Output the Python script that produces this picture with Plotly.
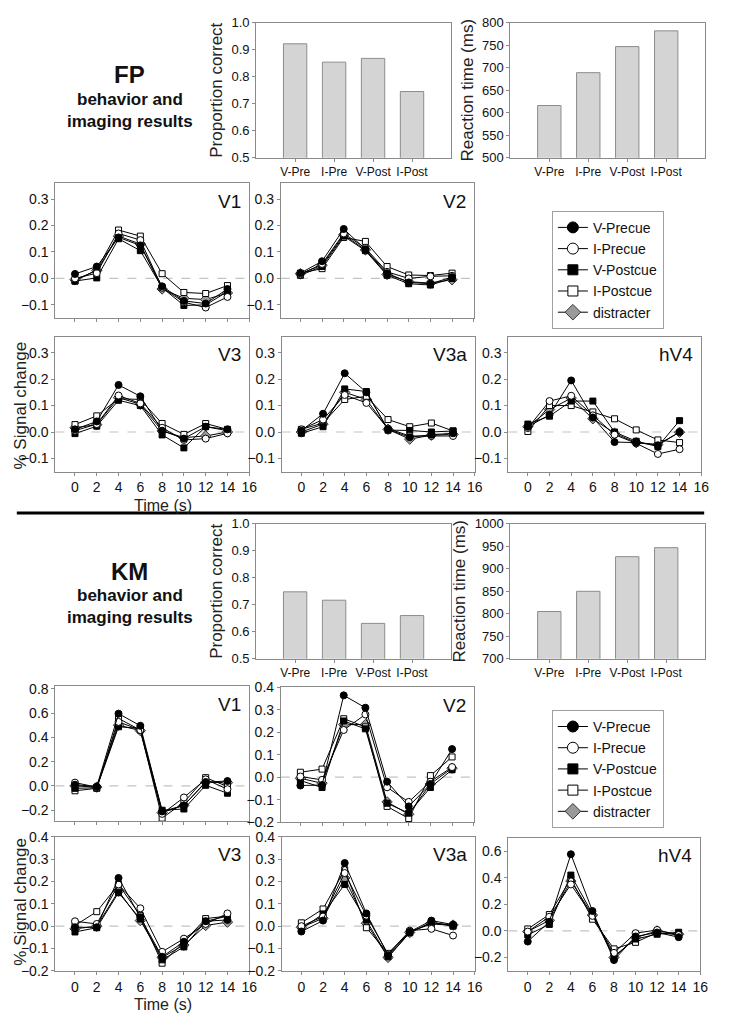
import plotly.graph_objects as go

W, H = 729, 1029

# ---- data ----
conds = ["V-Pre", "I-Pre", "V-Post", "I-Post"]
time_s = [0, 2, 4, 6, 8, 10, 12, 14]
series_names = ["V-Precue", "I-Precue", "V-Postcue", "I-Postcue", "distracter"]

fp_prop = [0.922, 0.854, 0.868, 0.745]
fp_rt = [616, 689, 747, 782]
km_prop = [0.748, 0.717, 0.631, 0.660]
km_rt = [805, 850, 927, 947]

# each list: V-Precue, I-Precue, V-Postcue, I-Postcue, distracter
fp_v1 = [[0.017, 0.045, 0.155, 0.125, -0.030, -0.085, -0.095, -0.040],
         [0.000, 0.020, 0.170, 0.145, -0.035, -0.090, -0.110, -0.070],
         [-0.010, 0.002, 0.150, 0.105, -0.035, -0.102, -0.100, -0.050],
         [-0.010, 0.033, 0.183, 0.160, 0.018, -0.053, -0.057, -0.027],
         [-0.005, 0.030, 0.160, 0.130, -0.040, -0.075, -0.080, -0.055]]
fp_v2 = [[0.020, 0.065, 0.187, 0.110, 0.020, -0.015, -0.020, 0.005],
         [0.015, 0.055, 0.170, 0.115, 0.025, 0.000, 0.008, 0.010],
         [0.012, 0.045, 0.160, 0.105, 0.012, -0.020, -0.025, 0.000],
         [0.020, 0.037, 0.155, 0.140, 0.045, 0.013, 0.011, 0.020],
         [0.018, 0.050, 0.165, 0.108, 0.015, -0.012, -0.018, -0.005]]
fp_v3 = [[0.010, 0.040, 0.178, 0.135, 0.005, -0.025, 0.020, 0.010],
         [0.005, 0.030, 0.138, 0.108, 0.016, -0.030, -0.025, -0.005],
         [-0.006, 0.022, 0.120, 0.100, -0.011, -0.060, 0.020, 0.005],
         [0.028, 0.061, 0.126, 0.123, 0.032, -0.009, 0.032, 0.010],
         [0.016, 0.028, 0.130, 0.105, 0.004, -0.021, -0.015, 0.000]]
fp_v3a = [[0.005, 0.069, 0.222, 0.150, 0.010, -0.020, -0.010, -0.005],
          [0.010, 0.047, 0.140, 0.110, 0.013, -0.015, -0.015, -0.015],
          [-0.005, 0.020, 0.163, 0.153, 0.007, 0.006, 0.000, 0.004],
          [0.010, 0.034, 0.123, 0.135, 0.047, 0.020, 0.034, 0.004],
          [0.000, 0.030, 0.150, 0.123, 0.010, -0.027, -0.012, -0.009]]
fp_hv4 = [[0.020, 0.065, 0.195, 0.055, -0.038, -0.040, -0.050, 0.000],
          [0.015, 0.117, 0.137, 0.063, -0.010, -0.043, -0.083, -0.065],
          [0.030, 0.060, 0.117, 0.117, 0.000, -0.035, -0.055, 0.043],
          [0.002, 0.100, 0.100, 0.076, 0.050, 0.008, -0.030, -0.040],
          [0.020, 0.085, 0.128, 0.050, -0.005, -0.040, -0.047, -0.001]]

km_v1 = [[0.010, -0.005, 0.595, 0.495, -0.210, -0.160, 0.032, 0.040],
         [0.027, -0.010, 0.527, 0.460, -0.230, -0.095, 0.054, -0.027],
         [-0.020, -0.015, 0.487, 0.473, -0.200, -0.190, 0.005, -0.060],
         [-0.040, -0.020, 0.555, 0.460, -0.265, -0.135, 0.068, -0.005],
         [0.000, -0.010, 0.500, 0.455, -0.220, -0.160, 0.030, 0.027]]
km_v2 = [[-0.037, -0.035, 0.364, 0.309, -0.020, -0.130, -0.030, 0.125],
         [0.003, -0.012, 0.210, 0.279, -0.045, -0.110, -0.020, 0.045],
         [-0.015, -0.046, 0.250, 0.215, -0.116, -0.160, -0.046, 0.033],
         [0.022, 0.036, 0.260, 0.224, -0.130, -0.184, 0.007, 0.090],
         [-0.005, -0.027, 0.234, 0.234, -0.110, -0.165, -0.030, 0.040]]
km_v3 = [[-0.005, -0.005, 0.216, 0.040, -0.137, -0.070, 0.022, 0.028],
         [0.022, 0.010, 0.187, 0.080, -0.115, -0.056, 0.010, 0.057],
         [-0.026, -0.007, 0.150, 0.032, -0.151, -0.093, 0.022, 0.045],
         [0.003, 0.065, 0.187, 0.047, -0.166, -0.070, 0.034, 0.045],
         [-0.012, 0.000, 0.157, 0.025, -0.140, -0.085, 0.003, 0.018]]
km_v3a = [[-0.024, 0.025, 0.283, 0.057, -0.130, -0.025, 0.025, 0.007],
          [0.000, 0.043, 0.238, 0.047, -0.125, -0.020, -0.012, -0.042],
          [-0.012, 0.055, 0.187, 0.028, -0.137, -0.030, 0.018, 0.000],
          [0.015, 0.077, 0.253, -0.007, -0.122, -0.025, 0.010, 0.003],
          [-0.005, 0.035, 0.216, 0.013, -0.140, -0.028, 0.015, 0.005]]
km_hv4 = [[-0.080, 0.069, 0.577, 0.150, -0.219, -0.042, -0.012, -0.047],
          [-0.005, 0.106, 0.350, 0.113, -0.165, -0.017, 0.007, -0.030],
          [-0.030, 0.049, 0.420, 0.130, -0.190, -0.061, -0.025, -0.010],
          [0.015, 0.123, 0.393, 0.088, -0.135, -0.086, -0.012, -0.030],
          [-0.005, 0.080, 0.376, 0.120, -0.200, -0.050, 0.000, -0.025]]

SANS = "Liberation Sans, Arial, sans-serif"
AXC = "#8a8a8a"

symbols = ["circle", "circle", "square", "square", "diamond"]
fills = ["black", "white", "black", "white", "#9a9a9a"]
edges = ["black", "black", "black", "black", "#333333"]
sizes = [7, 7, 6, 6, 8]

fig = go.Figure()
layout = {}
shapes = []
annos = []
n = [0]


def dom(x0, x1, y0, y1):
    return [x0 / W, x1 / W], [1 - y1 / H, 1 - y0 / H]


def new_axes(x0, x1, y0, y1):
    n[0] += 1
    k = n[0]
    xd, yd = dom(x0, x1, y0, y1)
    xname = "xaxis" if k == 1 else f"xaxis{k}"
    yname = "yaxis" if k == 1 else f"yaxis{k}"
    xr = "x" if k == 1 else f"x{k}"
    yr = "y" if k == 1 else f"y{k}"
    base = dict(showline=True, mirror=True, linecolor=AXC, linewidth=1,
                showgrid=False, zeroline=False, ticks="outside", ticklen=3,
                tickcolor=AXC)
    layout[xname] = dict(base, domain=xd, anchor=yr)
    layout[yname] = dict(base, domain=yd, anchor=xr)
    return xr, yr, xname, yname


def bar_panel(vals, x0, x1, y0, y1, yrange, dtick, fmt, ytitle):
    xr, yr, xn, yn = new_axes(x0, x1, y0, y1)
    fig.add_trace(go.Bar(x=conds, y=vals, xaxis=xr, yaxis=yr, width=0.6,
                         marker=dict(color="#d4d4d4", line=dict(color="#8c8c8c", width=1)),
                         showlegend=False))
    layout[xn].update(type="category", range=[-1, 4],
                      tickfont=dict(family=SANS, size=12, color="#111"))
    layout[yn].update(range=yrange, dtick=dtick, tickformat=fmt,
                      tickfont=dict(family=SANS, size=13, color="#111"),
                      title=dict(text=ytitle, standoff=4,
                                 font=dict(family=SANS, size=17, color="#222")))


def line_panel(data, label, x0, x1, y0, y1, yrange, dtick, xlabels, legend=None):
    xr, yr, xn, yn = new_axes(x0, x1, y0, y1)
    for i in reversed(range(5)):
        fig.add_trace(go.Scatter(
            x=time_s, y=data[i], xaxis=xr, yaxis=yr, mode="lines+markers",
            name=series_names[i], line=dict(color="black", width=1),
            marker=dict(symbol=symbols[i], size=sizes[i], color=fills[i],
                        line=dict(color=edges[i], width=1)),
            showlegend=False))
    if legend:
        # legend-only entries (no data) with larger symbols, as in the original key
        for i in range(5):
            fig.add_trace(go.Scatter(
                x=[None], y=[None], xaxis=xr, yaxis=yr, mode="lines+markers",
                name=series_names[i], legend=legend,
                line=dict(color="black", width=1),
                marker=dict(symbol=symbols[i], size=sizes[i] + 4, color=fills[i],
                            line=dict(color=edges[i], width=1))))
    layout[xn].update(range=[-1.8, 16], tickvals=list(range(0, 17, 2)),
                      showticklabels=xlabels,
                      tickfont=dict(family=SANS, size=14, color="#111"))
    layout[yn].update(range=yrange, dtick=dtick, tickformat=".1f",
                      tickfont=dict(family=SANS, size=14, color="#111"))
    shapes.append(dict(type="line", xref=f"{xr} domain", x0=0, x1=1, yref=yr,
                       y0=0, y1=0, line=dict(color="#c4c4c4", width=1.2, dash="dash"),
                       layer="below"))
    annos.append(dict(text=label, xref=f"{xr} domain", yref=f"{yr} domain",
                      x=0.97, y=0.96, xanchor="right", yanchor="top", showarrow=False,
                      font=dict(family=SANS, size=19, color="#111")))


def side_title(name, yc):
    annos.append(dict(text=f"<b>{name}</b>", x=131 / W, y=1 - (yc - 25) / H, xref="paper",
                      yref="paper", showarrow=False, xanchor="center", yanchor="middle",
                      font=dict(family=SANS, size=24, color="#111")))
    annos.append(dict(text="<b>behavior and</b>", x=131 / W, y=1 - yc / H, xref="paper",
                      yref="paper", showarrow=False, xanchor="center", yanchor="middle",
                      font=dict(family=SANS, size=17, color="#111")))
    annos.append(dict(text="<b>imaging results</b>", x=131 / W, y=1 - (yc + 22) / H,
                      xref="paper", yref="paper", showarrow=False, xanchor="center",
                      yanchor="middle", font=dict(family=SANS, size=17, color="#111")))


def side_labels(y_sig, y_time):
    annos.append(dict(text="% Signal change", x=21 / W, y=1 - y_sig / H, xref="paper",
                      yref="paper", showarrow=False, textangle=-90, xanchor="center",
                      yanchor="middle", font=dict(family=SANS, size=17, color="#222")))
    annos.append(dict(text="Time (s)", x=165 / W, y=1 - y_time / H, xref="paper",
                      yref="paper", showarrow=False, xanchor="center", yanchor="top",
                      font=dict(family=SANS, size=16, color="#222")))


# ---- FP section ----
side_title("FP", 93)
bar_panel(fp_prop, 259, 456, 15, 152, [0.5, 1.0], 0.1, ".1f", "Proportion correct")
bar_panel(fp_rt, 516, 713, 15, 152, [500, 800], 50, "d", "Reaction time (ms)")
fp_y = [-0.15, 0.36]
line_panel(fp_v1, "V1", 56, 252, 178, 315, fp_y, 0.1, False, legend="legend")
line_panel(fp_v2, "V2", 284, 479, 178, 315, fp_y, 0.1, False)
line_panel(fp_v3, "V3", 56, 252, 334, 471, fp_y, 0.1, True)
line_panel(fp_v3a, "V3a", 285, 480, 334, 471, fp_y, 0.1, True)
line_panel(fp_hv4, "hV4", 514, 709, 334, 471, fp_y, 0.1, True)
side_labels(404, 495)

# ---- KM section ----
side_title("KM", 597)
bar_panel(km_prop, 259, 456, 524, 661, [0.5, 1.0], 0.1, ".1f", "Proportion correct")
bar_panel(km_rt, 516, 713, 524, 661, [700, 1000], 50, "d", "Reaction time (ms)")
line_panel(km_v1, "V1", 56, 252, 689, 826, [-0.29, 0.82], 0.2, False, legend="legend2")
line_panel(km_v2, "V2", 284, 479, 690, 827, [-0.2, 0.4], 0.1, False)
line_panel(km_v3, "V3", 56, 252, 842, 978, [-0.2, 0.4], 0.1, True)
line_panel(km_v3a, "V3a", 285, 480, 842, 978, [-0.2, 0.4], 0.1, True)
line_panel(km_hv4, "hV4", 514, 708, 843, 978, [-0.3, 0.7], 0.2, True)
side_labels(908, 1002)

# divider between the two subjects
shapes.append(dict(type="line", xref="paper", yref="paper", x0=17 / W, x1=712 / W,
                   y0=1 - 513 / H, y1=1 - 513 / H, line=dict(color="black", width=3)))

leg = dict(xanchor="left", yanchor="top", bordercolor="#a0a0a0", borderwidth=1,
           bgcolor="white", font=dict(family=SANS, size=14, color="#111"),
           itemsizing="trace", tracegroupgap=0)

fig.update_layout(
    width=W, height=H, margin=dict(l=0, r=0, t=0, b=0),
    paper_bgcolor="white", plot_bgcolor="white",
    font=dict(family=SANS, color="#111"),
    legend=dict(leg, x=558 / W, y=1 - 206 / H),
    legend2=dict(leg, x=558 / W, y=1 - 713 / H),
    shapes=shapes, annotations=annos,
    **layout,
)

fig.write_html("out.html", config={"displayModeBar": False},
               post_script="document.body.style.margin='0';")
